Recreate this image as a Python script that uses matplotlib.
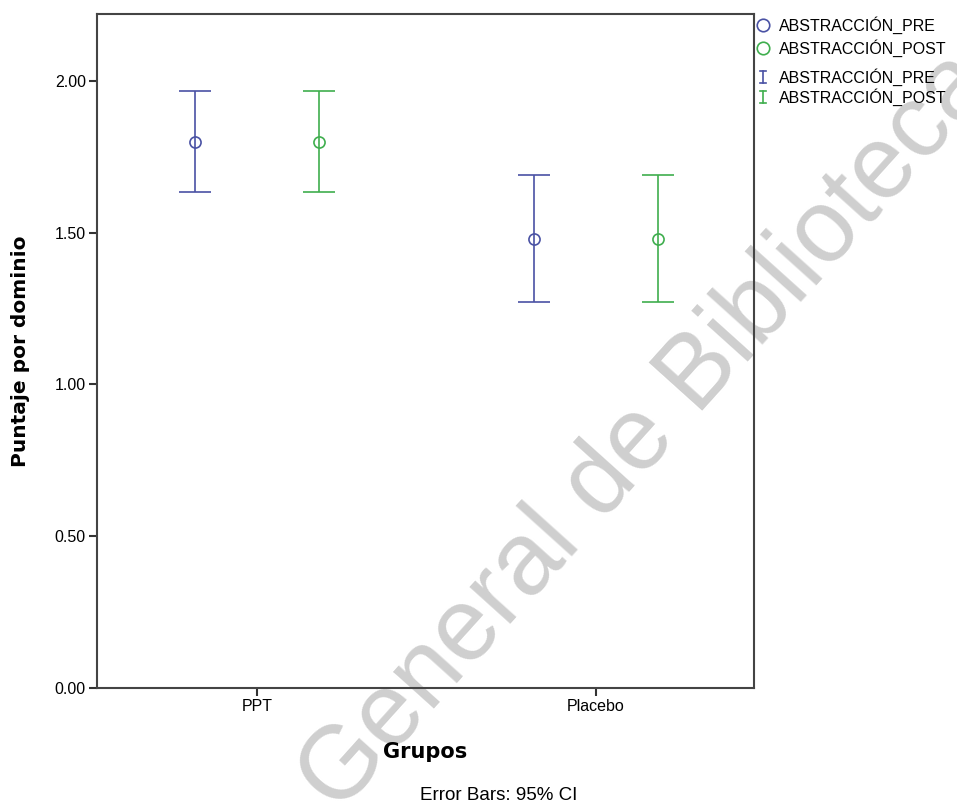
import matplotlib
matplotlib.use("Agg")
import matplotlib.pyplot as plt
from matplotlib.lines import Line2D
import numpy as np

groups = ["PPT", "Placebo"]
series = ["ABSTRACCIÓN_PRE", "ABSTRACCIÓN_POST"]
means_pre = [1.80, 1.48]
lower_pre = [1.634, 1.273]
upper_pre = [1.967, 1.690]
means_post = [1.80, 1.48]
lower_post = [1.634, 1.273]
upper_post = [1.967, 1.690]
yticks = [0.0, 0.5, 1.0, 1.5, 2.0]
ytick_labels = ["0.00", "0.50", "1.00", "1.50", "2.00"]

colors = ["#4a52a4", "#3fae4e"]
font = "Liberation Sans"
W, H = 957, 809

fig = plt.figure(figsize=(W/100, H/100), dpi=100)
ax = fig.add_axes([97/W, 1-688/H, (754-97)/W, (688-14)/H])
ax.patch.set_alpha(0)

x = np.arange(len(groups))
offset = 0.183
data = [(means_pre, lower_pre, upper_pre), (means_post, lower_post, upper_post)]
for i, (m, lo, hi) in enumerate(data):
    xi = x + (i*2-1)*offset
    m = np.array(m); lo = np.array(lo); hi = np.array(hi)
    ax.errorbar(xi, m, yerr=[m-lo, hi-m], fmt='none', ecolor=colors[i],
                elinewidth=1.2, capsize=11.5, capthick=1.2)
    ax.plot(xi, m, 'o', mfc='none', mec=colors[i], ms=8, mew=1.2)

ax.set_xlim(-0.472, 1.466)
ax.set_ylim(0, 2.22)
ax.set_yticks(yticks)
ax.set_yticklabels(ytick_labels, fontfamily=font, fontsize=11.5)
ax.set_xticks(x)
ax.set_xticklabels(groups, fontfamily=font, fontsize=11.5)
ax.tick_params(axis='both', length=6, width=1.5, color='#333333', pad=2)
for s in ax.spines.values():
    s.set_linewidth(1.5)
    s.set_color('#444444')

ax.set_xlabel("Grupos", fontfamily="DejaVu Sans", fontweight='bold', fontsize=15, labelpad=20)
ax.set_ylabel("Puntaje por dominio", fontfamily="DejaVu Sans", fontweight='bold', fontsize=14.5, labelpad=18)

fig.text(499/W, 1-795/H, "Error Bars: 95% CI", ha='center', va='center',
         fontfamily=font, fontsize=13.5)

# legend (manual layout to match row spacing)
def fx(px):
    return px / W
def fy(py):
    return 1 - py / H

rows = [25, 48, 77, 97]
for r, c in zip(rows[:2], colors):
    fig.add_artist(Line2D([fx(763)], [fy(r)], ls='none', marker='o', mfc='none',
                          mec=c, ms=9, mew=1.2, transform=fig.transFigure))
for r, c in zip(rows[2:], colors):
    fig.add_artist(Line2D([fx(763), fx(763)], [fy(r-6), fy(r+6)], color=c, lw=1.2,
                          transform=fig.transFigure))
    for yy in (r-6, r+6):
        fig.add_artist(Line2D([fx(760), fx(766)], [fy(yy), fy(yy)], color=c, lw=1.2,
                              transform=fig.transFigure))
for r, lab in zip(rows, series + series):
    fig.text(fx(779), fy(r), lab, ha='left', va='center', fontfamily=font, fontsize=11.5)

wm = fig.text(338/W, 1-815/H, "General de Bibliotecas", rotation=48, rotation_mode='anchor',
              ha='left', va='baseline', fontfamily=font, fontsize=74,
              color='#cfcfcf', zorder=-1)

fig.savefig("out.png", dpi=100)
